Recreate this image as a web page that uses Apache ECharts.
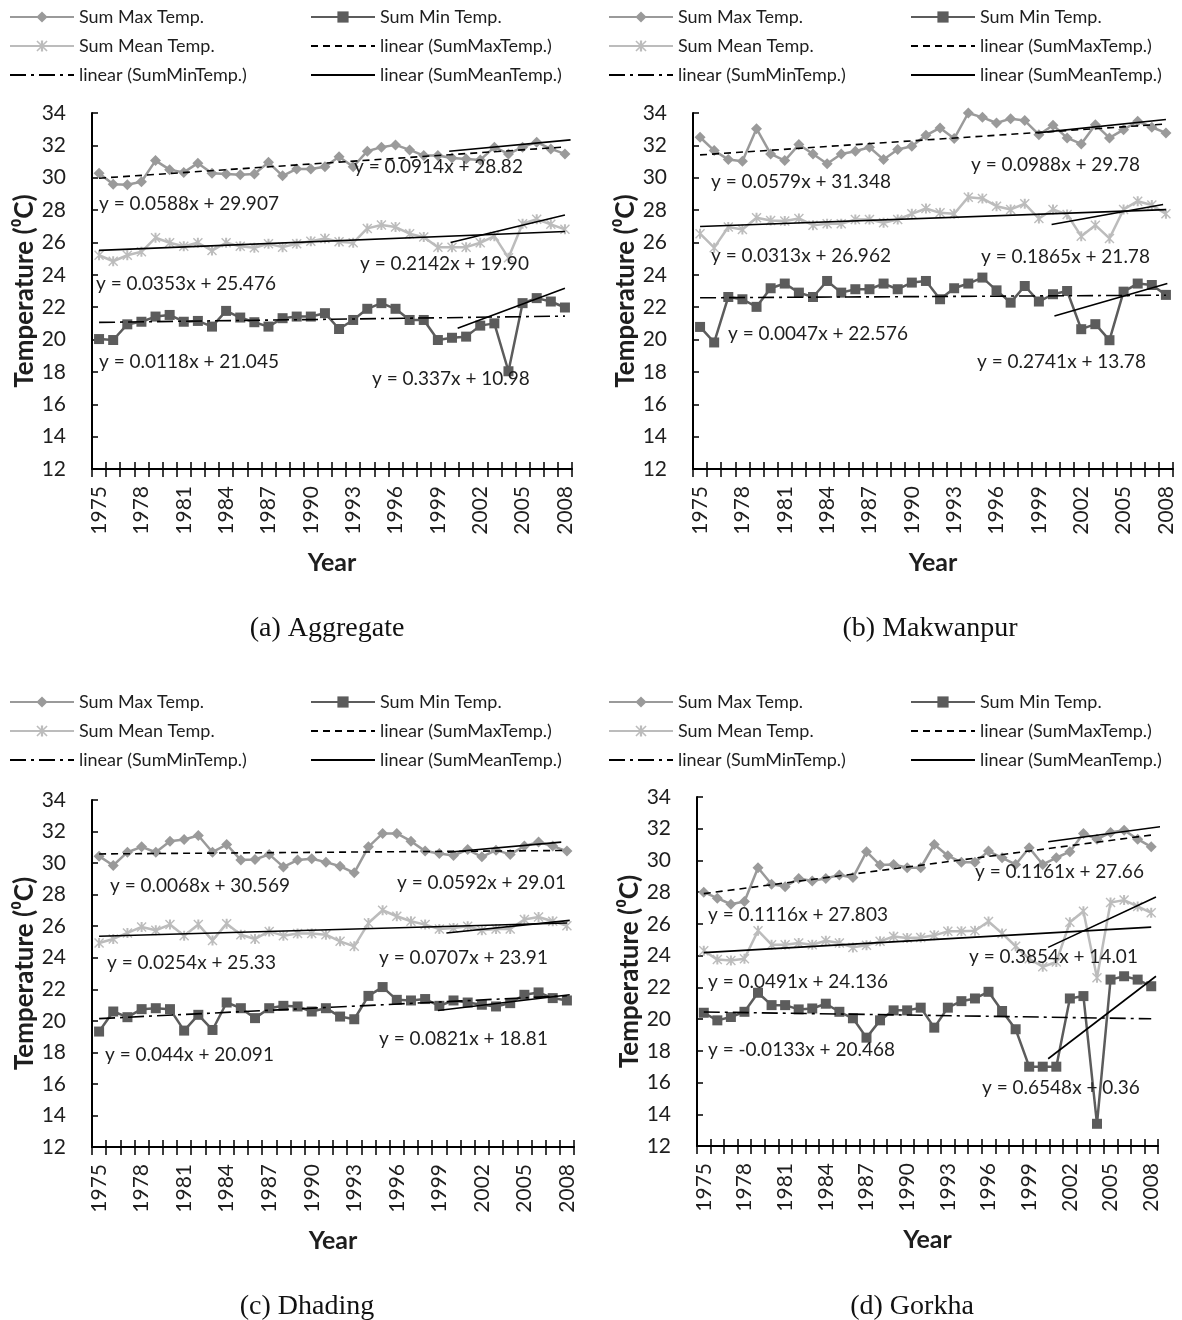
<!DOCTYPE html>
<html><head><meta charset="utf-8">
<script src="https://cdn.jsdelivr.net/npm/echarts@6/dist/echarts.min.js"></script>
<style>html,body{margin:0;padding:0;background:#fff}#c{width:1182px;height:1320px}</style>
</head><body><div id="c"></div>
<script>
// ---------------- DATA ----------------
const years = ['1975','1976','1977','1978','1979','1980','1981','1982','1983','1984','1985','1986','1987','1988','1989','1990','1991','1992','1993','1994','1995','1996','1997','1998','1999','2000','2001','2002','2003','2004','2005','2006','2007','2008'];
const legendNames = ['Sum Max Temp.','Sum Min Temp.','Sum Mean Temp.','linear (SumMaxTemp.)','linear (SumMinTemp.)','linear (SumMeanTemp.)'];
const captions = ['(a) Aggregate','(b) Makwanpur','(c) Dhading','(d) Gorkha'];

// (a) Aggregate
const aggMax  = [30.27,29.6,29.57,29.75,31.06,30.5,30.33,30.9,30.27,30.23,30.19,30.23,30.95,30.12,30.54,30.54,30.68,31.3,30.68,31.64,31.89,32.03,31.72,31.37,31.37,31.22,31.16,31.1,31.89,31.47,31.89,32.2,31.78,31.47];
const aggMean = [25.21,24.84,25.21,25.42,26.29,25.98,25.77,25.98,25.5,25.98,25.77,25.67,25.92,25.71,25.92,26.08,26.25,26.04,25.98,26.87,27.08,26.95,26.54,26.33,25.71,25.71,25.71,25.98,26.39,25.05,27.16,27.43,27.12,26.81];
const aggMin  = [20.03,19.97,20.94,21.1,21.42,21.52,21.1,21.15,20.8,21.77,21.36,21.07,20.8,21.32,21.42,21.42,21.63,20.65,21.21,21.9,22.25,21.9,21.21,21.21,19.97,20.11,20.18,20.86,21.0,18.04,22.25,22.56,22.35,21.98];
const aggTrendMax  = [[1975,29.97],[2008,31.9]];
const aggTrendMin  = [[1975,21.06],[2008,21.45]];
const aggTrendMean = [[1975,25.51],[2008,26.68]];
const aggRecentMax  = [[1999.8,31.64],[2008.4,32.34]];
const aggRecentMean = [[1999.9,26.0],[2008,27.7]];
const aggRecentMin  = [[2000.4,20.7],[2008,23.17]];
const aggEquations = ['y = 0.0914x + 28.82','y = 0.0588x + 29.907','y = 0.2142x + 19.90','y = 0.0353x + 25.476','y = 0.0118x + 21.045','y = 0.337x + 10.98'];

// (b) Makwanpur
const makMax  = [32.5,31.68,31.12,31.02,33.03,31.47,31.06,32.05,31.47,30.86,31.47,31.64,31.88,31.12,31.74,31.94,32.62,33.08,32.42,34.0,33.73,33.38,33.65,33.53,32.66,33.24,32.46,32.09,33.28,32.46,32.97,33.49,33.12,32.77];
const makMean = [26.54,25.68,26.95,26.8,27.53,27.36,27.32,27.48,27.07,27.16,27.16,27.42,27.42,27.22,27.42,27.77,28.1,27.83,27.77,28.8,28.72,28.24,28.04,28.39,27.48,28.04,27.73,26.39,27.07,26.25,28.04,28.55,28.31,27.77];
const makMin  = [20.78,19.82,22.63,22.49,22.02,23.17,23.46,22.9,22.63,23.62,22.9,23.11,23.11,23.46,23.11,23.52,23.62,22.49,23.17,23.46,23.83,23.04,22.28,23.31,22.35,22.8,23.0,20.64,20.95,19.96,22.96,23.46,23.37,22.76];
const makTrendMax  = [[1975,31.41],[2008,33.32]];
const makTrendMin  = [[1975,22.58],[2008,22.74]];
const makTrendMean = [[1975,26.99],[2008,28.03]];
const makRecentMax  = [[1998.9,32.77],[2008,33.6]];
const makRecentMean = [[1999.9,27.11],[2007.8,28.35]];
const makRecentMin  = [[2000.1,21.46],[2008.1,23.46]];
const makEquations = ['y = 0.0988x + 29.78','y = 0.0579x + 31.348','y = 0.0313x + 26.962','y = 0.1865x + 21.78','y = 0.0047x + 22.576','y = 0.2741x + 13.78'];

// (c) Dhading
const dhaMax  = [30.44,29.85,30.69,31.03,30.69,31.39,31.5,31.75,30.69,31.18,30.19,30.23,30.55,29.76,30.19,30.27,30.06,29.8,29.38,31.03,31.88,31.88,31.39,30.76,30.61,30.48,30.86,30.4,30.82,30.55,31.08,31.33,31.08,30.76];
const dhaMean = [24.93,25.19,25.57,25.95,25.74,26.1,25.4,26.1,25.1,26.16,25.46,25.19,25.67,25.4,25.53,25.53,25.46,25.04,24.72,26.2,27.01,26.63,26.31,26.1,25.82,25.89,25.99,25.74,25.82,25.82,26.42,26.58,26.31,26.03];
const dhaMin  = [19.32,20.59,20.23,20.74,20.8,20.74,19.38,20.38,19.42,21.16,20.8,20.17,20.8,20.95,20.91,20.59,20.8,20.27,20.1,21.58,22.14,21.33,21.29,21.38,20.95,21.29,21.16,21.02,20.91,21.12,21.65,21.8,21.44,21.29];
const dhaTrendMax  = [[1975,30.58],[2008,30.8]];
const dhaTrendMin  = [[1975,20.14],[2008,21.59]];
const dhaTrendMean = [[1975,25.36],[2008,26.2]];
const dhaRecentMax  = [[1999.6,30.69],[2007.6,31.33]];
const dhaRecentMean = [[1999.5,25.57],[2008.2,26.37]];
const dhaRecentMin  = [[1998.9,20.65],[2008.2,21.65]];
const dhaEquations = ['y = 0.0592x + 29.01','y = 0.0068x + 30.569','y = 0.0254x + 25.33','y = 0.0707x + 23.91','y = 0.044x + 20.091','y = 0.0821x + 18.81'];

// (d) Gorkha
const gorMax  = [28.0,27.62,27.24,27.41,29.54,28.5,28.35,28.87,28.71,28.87,29.08,28.92,30.55,29.71,29.75,29.54,29.54,31.01,30.3,29.88,29.88,30.59,30.17,29.75,30.8,29.75,30.17,30.55,31.7,31.34,31.76,31.91,31.34,30.86];
const gorMean = [24.31,23.75,23.69,23.81,25.57,24.69,24.69,24.79,24.69,24.94,24.79,24.52,24.65,24.9,25.21,25.11,25.15,25.28,25.53,25.53,25.57,26.15,25.4,24.59,23.8,23.3,23.6,26.1,26.8,22.6,27.35,27.5,27.1,26.7];
const gorMin  = [20.4,19.92,20.13,20.46,21.66,20.88,20.88,20.61,20.67,20.97,20.46,20.05,18.83,19.92,20.55,20.55,20.72,19.46,20.72,21.13,21.3,21.72,20.51,19.36,17.0,17.0,17.0,21.3,21.45,13.4,22.49,22.7,22.49,22.07];
const gorTrendMax  = [[1975,27.91],[2008,31.6]];
const gorTrendMin  = [[1975,20.45],[2008,20.02]];
const gorTrendMean = [[1975,24.19],[2008,25.8]];
const gorRecentMax  = [[2000.4,31.18],[2010.2,32.3]];
const gorRecentMean = [[2000.4,24.52],[2008.35,27.7]];
const gorRecentMin  = [[2000.4,17.5],[2008.35,22.7]];
const gorEquations = ['y = 0.1161x + 27.66','y = 0.1116x + 27.803','y = 0.3854x + 14.01','y = 0.0491x + 24.136','y = -0.0133x + 20.468','y = 0.6548x + 0.36'];

// ---------------- LAYOUT / STYLE ----------------
const panels = [
  {max:aggMax, mean:aggMean, min:aggMin, tMax:aggTrendMax, tMin:aggTrendMin, tMean:aggTrendMean, rMax:aggRecentMax, rMean:aggRecentMean, rMin:aggRecentMin, eq:aggEquations},
  {max:makMax, mean:makMean, min:makMin, tMax:makTrendMax, tMin:makTrendMin, tMean:makTrendMean, rMax:makRecentMax, rMean:makRecentMean, rMin:makRecentMin, eq:makEquations},
  {max:dhaMax, mean:dhaMean, min:dhaMin, tMax:dhaTrendMax, tMin:dhaTrendMin, tMean:dhaTrendMean, rMax:dhaRecentMax, rMean:dhaRecentMean, rMin:dhaRecentMin, eq:dhaEquations},
  {max:gorMax, mean:gorMean, min:gorMin, tMax:gorTrendMax, tMin:gorTrendMin, tMean:gorTrendMean, rMax:gorRecentMax, rMean:gorRecentMean, rMin:gorRecentMin, eq:gorEquations}
];
const gridBoxes = [
  {left:92, top:113, width:480, height:356},
  {left:693, top:113, width:480, height:356},
  {left:92, top:800, width:482, height:347},
  {left:697, top:797, width:461, height:349}
];
const legendTops = [7, 7, 692, 692];
const legendCols = [[9,310],[608,910],[9,310],[608,910]];
const eqPos = [
  [[354,167],[99,204],[360,264],[96,284],[99,362],[372,379]],
  [[971,165],[711,182],[711,256],[981,257],[728,334],[977,362]],
  [[397,883],[110,886],[107,963],[379,958],[105,1055],[379,1039]],
  [[975,872],[708,915],[969,957],[708,982],[708,1050],[982,1088]]
];
const captionPos = [[327,629],[930,629],[307,1307],[912,1307]];

const FONT = 'Lato, "Noto Sans", sans-serif';
const TXT = '#1e1e1e';
const C_MAX = '#9a9a9a', C_MIN = '#5c5c5c', C_MEAN = '#bcbcbc';
const STAR = 'path://M4,0H6V10H4Z M0,1L1,0L10,9L9,10Z M9,0L10,1L1,10L0,9Z';

const grid = [], xAxis = [], yAxis = [], series = [], legend = [], graphic = [];

panels.forEach((p, i) => {
  grid.push(Object.assign({containLabel:false}, gridBoxes[i]));
  xAxis.push({
    type:'category', gridIndex:i, data:years, position:'bottom', boundaryGap:true,
    name:'Year', nameLocation:'middle', nameGap:81,
    nameTextStyle:{fontFamily:FONT, fontSize:25, fontWeight:'bold', color:TXT},
    axisLine:{lineStyle:{color:'#000', width:2}},
    axisTick:{show:true, interval:0, inside:false, length:8, lineStyle:{color:'#000', width:1.5}},
    axisLabel:{interval:2, rotate:90, margin:17, fontFamily:FONT, fontSize:21, color:TXT},
    splitLine:{show:false}
  });
  xAxis.push({
    type:'value', gridIndex:i, min:0, max:34, interval:1, position:'bottom',
    axisLine:{show:false}, axisLabel:{show:false}, splitLine:{show:false},
    axisTick:{show:true, inside:true, length:7, lineStyle:{color:'#000', width:1.5}}
  });
  yAxis.push({
    type:'value', gridIndex:i, min:12, max:34, interval:2,
    name:'Temperature (⁰C)', nameLocation:'middle', nameGap:53,
    nameTextStyle:{fontFamily:FONT, fontSize:26, fontWeight:'bold', color:TXT},
    axisLine:{show:true, lineStyle:{color:'#000', width:2}},
    axisTick:{show:true, inside:true, length:6, lineStyle:{color:'#000', width:1.5}},
    axisLabel:{margin:26, fontFamily:FONT, fontSize:21, color:TXT},
    splitLine:{show:false}
  });
  const cx = 2*i, vx = 2*i+1;
  const dataLine = (name, data, color, symbol, size) => ({
    name, type:'line', xAxisIndex:cx, yAxisIndex:i, data,
    symbol, symbolSize:size, showSymbol:true, showAllSymbol:true,
    lineStyle:{color, width:2.5}, itemStyle:{color, borderWidth:0},
    z:2, silent:true
  });
  series.push(dataLine('Sum Max Temp.', p.max, C_MAX, 'diamond', 11));
  series.push(dataLine('Sum Min Temp.', p.min, C_MIN, 'rect', 10));
  series.push(dataLine('Sum Mean Temp.', p.mean, C_MEAN, STAR, 10));
  const trend = (name, pts, type, clip) => ({
    name, type:'line', xAxisIndex:vx, yAxisIndex:i,
    data: pts.map(d => [d[0]-1974.5, d[1]]),
    symbol:'none', showSymbol:false, clip: clip !== false,
    lineStyle:{color:'#000', width:1.6, type},
    itemStyle:{color:'rgba(0,0,0,0)', opacity:0}, z:3, silent:true
  });
  series.push(trend('linear (SumMaxTemp.)', p.tMax, [7,5]));
  series.push(trend('linear (SumMinTemp.)', p.tMin, [16,5,3,5]));
  series.push(trend('linear (SumMeanTemp.)', p.tMean, 'solid'));
  series.push(trend('recent max '+i, p.rMax, 'solid', false));
  series.push(trend('recent mean '+i, p.rMean, 'solid', false));
  series.push(trend('recent min '+i, p.rMin, 'solid', false));

  const legCommon = {
    orient:'vertical', top:legendTops[i], padding:0, itemWidth:64, itemHeight:14, itemGap:9,
    selectedMode:false, textStyle:{fontFamily:FONT, fontSize:18, color:TXT, lineHeight:20}
  };
  legend.push(Object.assign({left:legendCols[i][0], data:[legendNames[0], legendNames[2], legendNames[4]]}, legCommon));
  legend.push(Object.assign({left:legendCols[i][1], data:[legendNames[1], legendNames[3], legendNames[5]]}, legCommon));

  p.eq.forEach((t, k) => {
    graphic.push({type:'text', x:eqPos[i][k][0], y:eqPos[i][k][1], silent:true, z:10,
      style:{text:t, fontFamily:FONT, fontSize:19, fill:TXT, textVerticalAlign:'middle', verticalAlign:'middle'}});
  });
  graphic.push({type:'text', x:captionPos[i][0], y:captionPos[i][1], silent:true,
    style:{text:captions[i], fontFamily:'"Liberation Serif", "DejaVu Serif", serif', fontSize:28, fill:'#111',
      textAlign:'center', align:'center', textVerticalAlign:'middle', verticalAlign:'middle'}});
});

const chart = echarts.init(document.getElementById('c'), null, {renderer:'canvas'});
chart.setOption({
  animation:false, backgroundColor:'#fff',
  grid, xAxis, yAxis, series, legend, graphic
});
</script></body></html>
